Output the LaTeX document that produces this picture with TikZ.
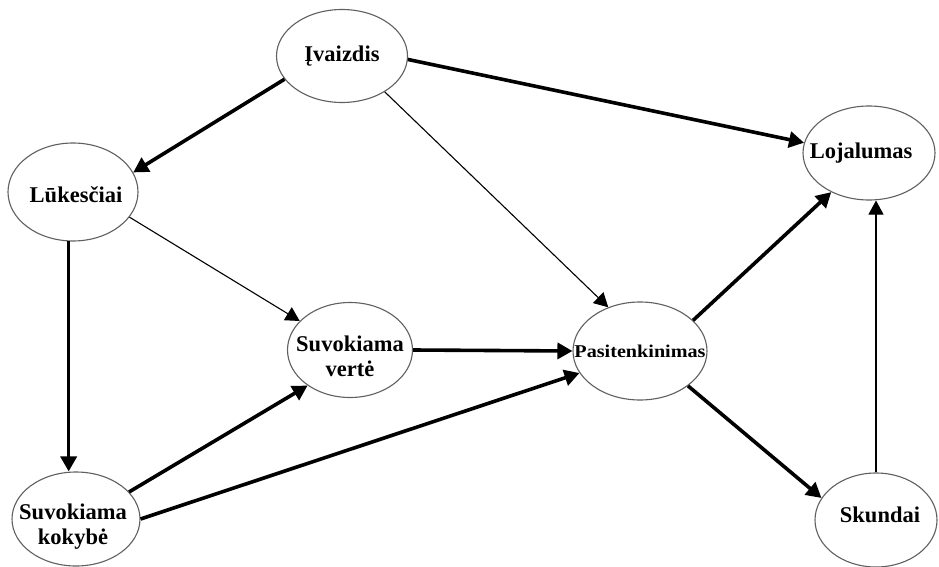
\documentclass[tikz,border=0pt]{standalone}
\usepackage{fontspec}
\usepackage{graphicx}
\setmainfont{Liberation Serif}
\usetikzlibrary{shapes.geometric,arrows.meta}
\tikzset{
  ell/.style={draw=gray!75!black, line width=1.1pt, ellipse, inner sep=0pt, fill=white},
  lab/.style={font=\fontsize{22.5}{25}\selectfont\bfseries, align=center, inner sep=0pt, text=black},
  thickarr/.style={line width=3.6pt, -{Triangle[length=15pt,width=16pt]}},
  thinarr/.style={line width=1.1pt, -{Triangle[length=14pt,width=15pt]}}
}
\begin{document}
\begin{tikzpicture}[x=1pt,y=-1pt]
\useasboundingbox[fill=white] (0,0) rectangle (939,567);
\node[ell, minimum width=131pt, minimum height=93pt,
      label={[lab]center:Įvaizdis}] (iv) at (342,56) {};
\node[ell, minimum width=130pt, minimum height=98pt,
      label={[lab,xshift=3pt,yshift=-3pt]center:Lūkesčiai}] (lu) at (73,192) {};
\node[ell, minimum width=128pt, minimum height=94pt,
      label={[lab,xshift=-3pt,yshift=-8pt]center:{Suvokiama\\kokybė}}] (kok) at (76,519) {};
\node[ell, minimum width=125pt, minimum height=95pt,
      label={[lab,yshift=-6pt]center:{Suvokiama\\vertė}}] (ve) at (350,350) {};
\node[ell, minimum width=134pt, minimum height=98pt,
      label={[lab]center:{\fontsize{18}{20}\selectfont\scalebox{1.12}[1]{Pasitenkinimas}}}] (pa) at (640,351) {};
\node[ell, minimum width=132pt, minimum height=94pt,
      label={[lab,xshift=-8pt]center:Lojalumas}] (lo) at (869,153) {};
\node[ell, minimum width=122pt, minimum height=94pt,
      label={[lab,xshift=4pt,yshift=5pt]center:Skundai}] (sk) at (876,520) {};

\draw[thickarr] (iv.202) -- (lu.18);
\draw[thickarr] (iv.-3) -- (lo.171);
\draw[thinarr] (iv.-40) -- (pa.126);
\draw[thinarr] (lu.-24) -- (ve.150);
\draw[thickarr] (lu.-95) -- (lu.-95 |- kok.north);
\draw[thickarr] (ve.east) -- (pa.west);
\draw[thickarr] (kok.27) -- (ve.220);
\draw[thickarr] (kok.east) -- (pa.200);
\draw[thickarr] (pa.30) -- (lo.226);
\draw[thickarr] (pa.-36) -- (sk.158);
\draw[thinarr] (sk.north) -- (sk.north |- lo.south);
\end{tikzpicture}
\end{document}
